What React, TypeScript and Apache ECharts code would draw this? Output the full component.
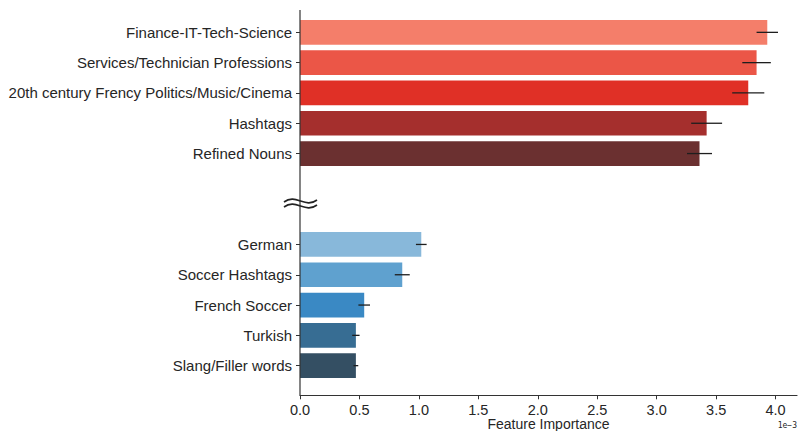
import React, { useEffect, useRef } from 'react';
import * as echarts from 'echarts';

const categories = [
  'Finance-IT-Tech-Science',
  'Services/Technician Professions',
  '20th century Frency Politics/Music/Cinema',
  'Hashtags',
  'Refined Nouns',
  '',
  '',
  'German',
  'Soccer Hashtags',
  'French Soccer',
  'Turkish',
  'Slang/Filler words',
];
const importance = [3.93, 3.84, 3.77, 3.42, 3.36, null, null, 1.02, 0.86, 0.54, 0.47, 0.47];
const errors = [0.09, 0.12, 0.135, 0.13, 0.105, null, null, 0.045, 0.063, 0.049, 0.031, 0.02];
const xTicks = [0, 0.5, 1.0, 1.5, 2.0, 2.5, 3.0, 3.5, 4.0];
const barColors = [
  '#f47e6a', '#eb5647', '#e03026', '#a52f2d', '#6b3030',
  null, null,
  '#88b8da', '#5fa1cf', '#3a89c4', '#376d93', '#344f63',
];

const FONT = '"Liberation Sans", Arial, sans-serif';
const TXT = '#262626';

export default function App() {
  const ref = useRef<HTMLDivElement>(null);
  useEffect(() => {
    document.body.style.margin = '0';
    const chart = echarts.init(ref.current!, null, { renderer: 'svg' });
    const barData = importance.map((v, i) =>
      v == null ? null : { value: v, itemStyle: { color: barColors[i] } }
    );
    const errData: any[] = [];
    importance.forEach((v, i) => {
      if (v != null && errors[i] != null) errData.push([v - (errors[i] as number), v + (errors[i] as number), i]);
    });
    chart.setOption({
      animation: false,
      grid: { left: 300, right: 1, top: 17.2, height: 363.6, containLabel: false, outerBoundsMode: 'none' },
      xAxis: {
        type: 'value',
        min: 0,
        max: 4.18,
        offset: 14.5,
        axisLine: { show: true, lineStyle: { color: '#333', width: 1.2 } },
        axisTick: { show: true, customValues: xTicks, length: 4, lineStyle: { color: '#333' } },
        axisLabel: {
          customValues: xTicks,
          formatter: (v: number) => v.toFixed(1),
          color: TXT,
          fontSize: 14.5,
          fontFamily: FONT,
          lineHeight: 14,
          margin: 7.5,
        },
        splitLine: { show: false },
        name: 'Feature Importance',
        nameLocation: 'middle',
        nameGap: 21.5,
        nameMoveOverlap: false,
        nameTextStyle: { color: TXT, fontSize: 14, fontFamily: FONT, verticalAlign: 'top', lineHeight: 14 },
      },
      yAxis: {
        type: 'category',
        inverse: true,
        data: categories,
        axisLine: { show: false },
        axisTick: {
          show: true,
          alignWithLabel: true,
          length: 4,
          interval: (i: number) => categories[i] !== '',
          lineStyle: { color: '#333' },
        },
        axisLabel: { interval: 0, color: TXT, fontSize: 15, fontFamily: FONT, margin: 8 },
      },
      series: [
        {
          type: 'bar',
          data: barData,
          barWidth: '81.5%',
        },
        {
          type: 'custom',
          data: errData,
          encode: { x: [0, 1], y: 2 },
          renderItem: (params: any, api: any) => {
            const a = api.coord([api.value(0), api.value(2)]);
            const b = api.coord([api.value(1), api.value(2)]);
            return {
              type: 'line',
              shape: { x1: a[0], y1: a[1], x2: b[0], y2: b[1] },
              style: { stroke: '#1e1e1e', lineWidth: 1.3 },
            };
          },
          z: 5,
        },
      ],
      graphic: [
        {
          type: 'line',
          shape: { x1: 300, y1: 10, x2: 300, y2: 395.5 },
          style: { stroke: '#333', lineWidth: 1.2 },
          z: 10,
        },
        {
          type: 'bezierCurve',
          shape: { x1: 284, y1: 202, cpx1: 296, cpy1: 193, cpx2: 305, cpy2: 209, x2: 317, y2: 200 },
          style: { stroke: '#222', lineWidth: 1.6, fill: null },
          z: 11,
        },
        {
          type: 'bezierCurve',
          shape: { x1: 284, y1: 207, cpx1: 296, cpy1: 198, cpx2: 305, cpy2: 214, x2: 317, y2: 205 },
          style: { stroke: '#222', lineWidth: 1.6, fill: null },
          z: 11,
        },
        {
          type: 'text',
          right: 1,
          top: 421,
          style: { text: '1e\u22123', fill: TXT, fontSize: 8, fontFamily: '"DejaVu Sans Mono", monospace' },
        },
      ],
    });
    return () => chart.dispose();
  }, []);
  return <div ref={ref} style={{ width: 798, height: 431 }} />;
}
